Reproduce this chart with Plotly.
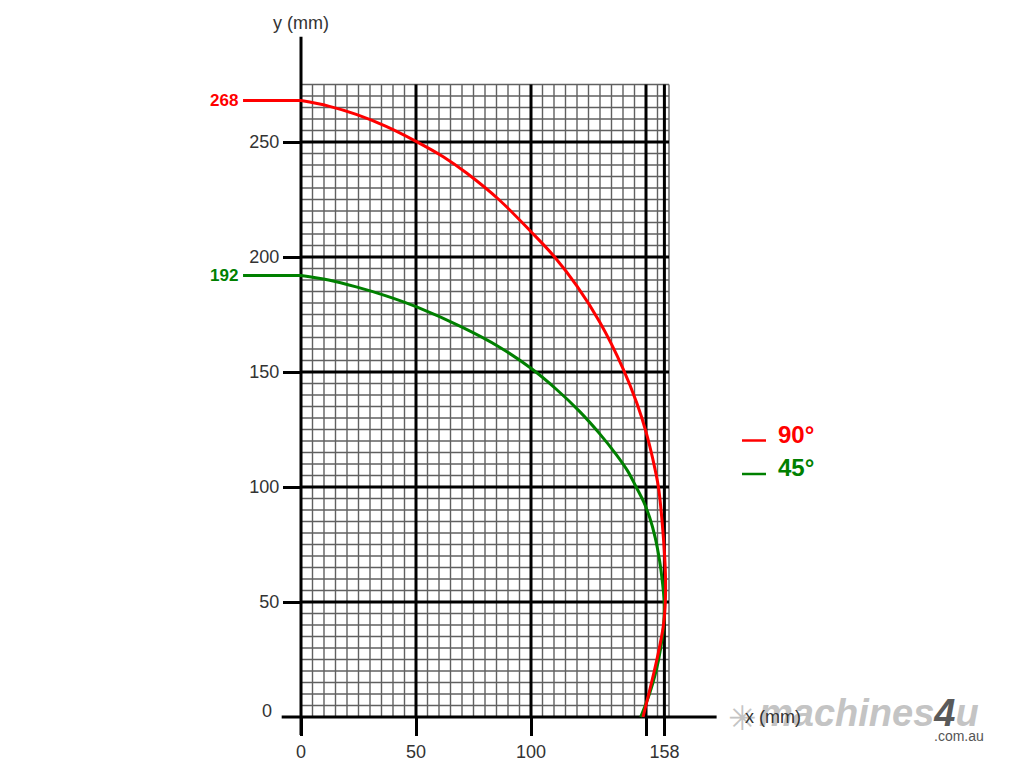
import plotly.graph_objects as go
import numpy as np

# ---------------- data ----------------
x_ticks = [0, 50, 100, 150, 158]
x_tick_labels = ["0", "50", "100", "", "158"]
y_ticks = [50, 100, 150, 200, 250]
y_tick_labels = ["50", "100", "150", "200", "250"]

# 90° curve (red)
red_x = [0, 12, 24, 37, 50, 62, 72, 86, 100, 110, 120, 130, 140, 146, 150, 153, 155.4, 157, 158.1, 158.5,
         158.4, 157.6, 155.8, 153.6, 151.2, 148.7]
red_y = [268, 265.6, 262, 256.8, 250.3, 243.5, 236.5, 225, 211, 200.3, 187.3, 171.5, 151.5, 136.5, 124, 112,
         100, 85, 70, 60, 50, 40, 30, 20, 10, 0]
# 45° curve (green)
green_x = [0, 12, 24, 37, 50, 70, 86, 100, 111, 121, 130, 137, 142, 145.6, 149, 151.6, 154, 155.9, 157.1,
           157.9, 157.7, 156.4, 154.4, 151.5, 147.7]
green_y = [192, 190, 187, 183.1, 178.4, 169.5, 161, 151.6, 142.5, 133, 123, 114.2, 107, 100.2, 93.5, 86.7,
           78, 68, 59, 50, 40, 30, 20, 10, 0]
red_start_label = "268"
green_start_label = "192"
leader_x0 = -25.2

grid_x_max = 160
grid_y_max = 275
minor_step = 5
major_x = [50, 100, 150, 158]
major_y = [50, 100, 150, 200, 250]

# ---------------- scale (2.3 px per mm) ----------------
W, H = 1024, 768
BODY = 8  # default page margin of the html body
PX = 2.3
OX, OY = 301 - BODY, 717 - BODY
x_range = [-OX / PX, (W - OX) / PX]
y_range = [(OY - H) / PX, OY / PX]


def pxx(px):
    return (px - BODY) / W


def pxy(py):
    return (H - (py - BODY)) / H


fig = go.Figure()


def seg_trace(xs, ys, color, width):
    return go.Scatter(x=xs, y=ys, mode="lines", line=dict(color=color, width=width),
                      hoverinfo="skip", showlegend=False)


# minor grid
mx, my = [], []
for v in np.arange(0, grid_x_max + 0.1, minor_step):
    mx += [v, v, None]
    my += [0, grid_y_max, None]
for h in np.arange(0, grid_y_max + 0.1, minor_step):
    mx += [0, grid_x_max, None]
    my += [h, h, None]
fig.add_trace(seg_trace(mx, my, "#606060", 1.4))

# major grid
jx, jy = [], []
for v in major_x:
    jx += [v, v, None]
    jy += [0, grid_y_max, None]
for h in major_y:
    jx += [0, grid_x_max, None]
    jy += [h, h, None]
fig.add_trace(seg_trace(jx, jy, "black", 3))

# axes lines
fig.add_trace(seg_trace([-8.4, 180.7], [0, 0], "black", 3))
fig.add_trace(seg_trace([0, 0], [-7.8, 295.8], "black", 3))

# leader lines to start values
fig.add_trace(seg_trace([leader_x0, 0], [green_y[0], green_y[0]], "#008000", 3))
fig.add_trace(seg_trace([leader_x0, 0], [red_y[0], red_y[0]], "#ff0000", 3))

# curves
fig.add_trace(go.Scatter(x=green_x, y=green_y, mode="lines", name="45°",
                         line=dict(color="#008000", width=3, shape="spline", smoothing=1.0),
                         showlegend=False))
fig.add_trace(go.Scatter(x=red_x, y=red_y, mode="lines", name="90°",
                         line=dict(color="#ff0000", width=3, shape="spline", smoothing=1.0),
                         showlegend=False))

font = "Liberation Sans, Arial, sans-serif"
ann = []
ann.append(dict(x=leader_x0, y=red_y[0], text="<b>%s</b>" % red_start_label, showarrow=False, xanchor="right",
                xshift=-3, font=dict(family=font, size=17, color="#ff0000")))
ann.append(dict(x=leader_x0, y=green_y[0], text="<b>%s</b>" % green_start_label, showarrow=False,
                xanchor="right", xshift=-3, font=dict(family=font, size=17, color="#008000")))
# y 0 label
ann.append(dict(x=0, y=0, text="0", showarrow=False, xanchor="center", yanchor="middle",
                xshift=-34, yshift=6, font=dict(family=font, size=18, color="#333")))
# axis titles
ann.append(dict(x=0, y=295.8, text="y (mm)", showarrow=False, xanchor="center", yanchor="bottom",
                yshift=2, font=dict(family=font, size=18, color="#333")))
# watermark
ann.append(dict(x=pxx(742), y=pxy(718), xref="paper", yref="paper", text="✳", showarrow=False,
                xanchor="center", yanchor="middle", font=dict(family="DejaVu Sans", size=34, color="#c4c4c4")))
ann.append(dict(x=pxx(757), y=pxy(713), xref="paper", yref="paper",
                text="<b><i>machines<span style='color:#5a5a5a'>4</span>u</i></b>", showarrow=False,
                xanchor="left", yanchor="middle", font=dict(family=font, size=38, color="#c4c4c4")))
ann.append(dict(x=pxx(986), y=pxy(736), xref="paper", yref="paper", text=".com.au", showarrow=False,
                xanchor="right", yanchor="middle", font=dict(family=font, size=14, color="#555")))
ann.append(dict(x=180.7, y=0, text="x (mm)", showarrow=False, xanchor="left", yanchor="middle",
                xshift=26, font=dict(family=font, size=18, color="#333")))
# legend
ann.append(dict(x=pxx(776), y=pxy(434), xref="paper", yref="paper", text="<b>90°</b>", showarrow=False,
                xanchor="left", yanchor="middle", font=dict(family=font, size=24, color="#ff0000")))
ann.append(dict(x=pxx(776), y=pxy(467), xref="paper", yref="paper", text="<b>45°</b>", showarrow=False,
                xanchor="left", yanchor="middle", font=dict(family=font, size=24, color="#008000")))

shapes = [
    dict(type="line", xref="paper", yref="paper", x0=pxx(742), x1=pxx(766), y0=pxy(440.5), y1=pxy(440.5),
         line=dict(color="#ff0000", width=2.5)),
    dict(type="line", xref="paper", yref="paper", x0=pxx(742), x1=pxx(766), y0=pxy(474), y1=pxy(474),
         line=dict(color="#008000", width=2.5)),
]

fig.update_layout(
    width=W, height=H, autosize=False,
    margin=dict(l=0, r=0, t=0, b=0),
    paper_bgcolor="white", plot_bgcolor="white",
    annotations=ann, shapes=shapes,
    xaxis=dict(range=x_range, domain=[0, 1], anchor="free", position=(H - OY) / H,
               showgrid=False, zeroline=False, showline=False,
               tickvals=x_ticks, ticktext=x_tick_labels, ticks="outside", ticklen=18, tickwidth=3,
               tickcolor="black", tickfont=dict(family=font, size=18, color="#333"), automargin=False,
               fixedrange=True),
    yaxis=dict(range=y_range, domain=[0, 1], anchor="free", position=OX / W,
               showgrid=False, zeroline=False, showline=False,
               tickvals=y_ticks, ticktext=y_tick_labels, ticks="outside", ticklen=18, tickwidth=3,
               tickcolor="black", tickfont=dict(family=font, size=18, color="#333"), automargin=False,
               fixedrange=True),
    showlegend=False,
)

fig.write_html("out.html")
